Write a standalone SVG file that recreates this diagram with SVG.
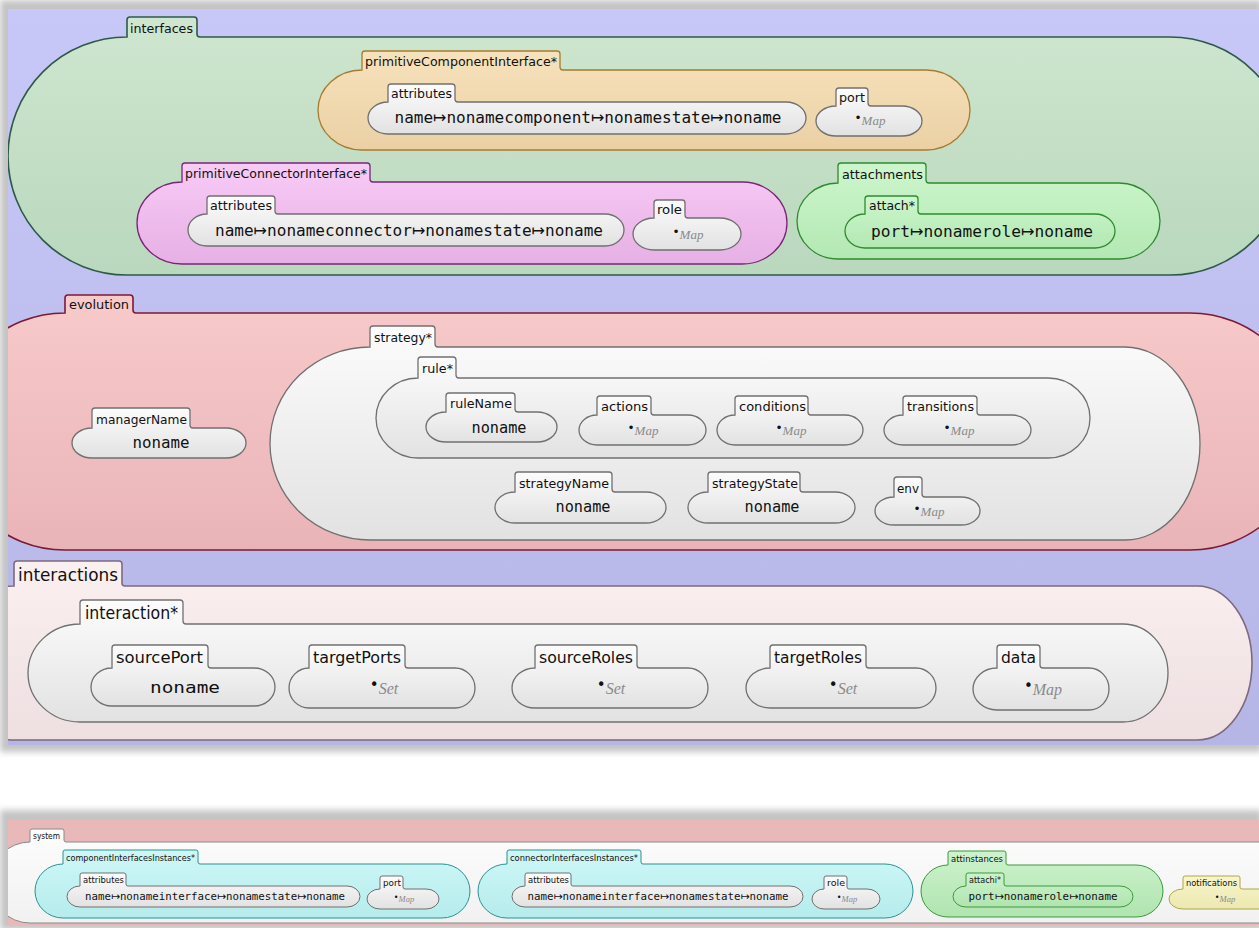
<svg xmlns="http://www.w3.org/2000/svg" width="1259" height="928" viewBox="0 0 1259 928">
<defs>
<style>
.tab{font-family:"DejaVu Sans Condensed","DejaVu Sans",sans-serif;font-size:12px;fill:#111}
.tabs{font-family:"DejaVu Sans Condensed","DejaVu Sans",sans-serif;font-size:8.5px;fill:#111}
.tabl{font-family:"DejaVu Sans Condensed","DejaVu Sans",sans-serif;font-size:17px;fill:#111}
.tabm{font-family:"DejaVu Sans Condensed","DejaVu Sans",sans-serif;font-size:16px;fill:#111}
.mono{font-family:"DejaVu Sans Mono","Liberation Mono",monospace;font-size:16px;fill:#111;text-anchor:middle}
.monos{font-family:"DejaVu Sans Mono","Liberation Mono",monospace;font-size:11px;fill:#111;text-anchor:middle}
.ar{font-family:"DejaVu Sans",sans-serif}
.val{text-anchor:middle}
.dot{font-family:"DejaVu Sans",sans-serif;fill:#111}
.it{font-family:"Liberation Serif","DejaVu Serif",serif;font-style:italic;fill:#8a8a8a}
.c1{stroke-width:1.6}
.c2{stroke-width:1.3}
.c3{stroke-width:1}
.green{fill:url(#gGreen);stroke:#2d5a48}
.orange{fill:url(#gOrange);stroke:#a47c30}
.magenta{fill:url(#gMag);stroke:#7a2478}
.lgreen{fill:url(#gLGreen);stroke:#2f8a2f}
.evo{fill:url(#gEvo);stroke:#7c1a34}
.white{fill:url(#gWhite);stroke:#707070}
.inter{fill:url(#gInter);stroke:#7d6a7c}
.cyan{fill:url(#gCyan);stroke:#2a9292}
.bgreen{fill:url(#gBGreen);stroke:#3a9a3a}
.yellow{fill:url(#gYellow);stroke:#b0a64c}
.sys{fill:url(#gSys);stroke:#8a8a8a}
</style>
<linearGradient id="gGreen" x1="0" y1="0" x2="0" y2="1"><stop offset="0" stop-color="#cfe6cf"/><stop offset="1" stop-color="#b9d8bd"/></linearGradient>
<linearGradient id="gOrange" x1="0" y1="0" x2="0" y2="1"><stop offset="0" stop-color="#f7e2bc"/><stop offset="1" stop-color="#ebd0a4"/></linearGradient>
<linearGradient id="gMag" x1="0" y1="0" x2="0" y2="1"><stop offset="0" stop-color="#f8cbf6"/><stop offset="1" stop-color="#e6b0e4"/></linearGradient>
<linearGradient id="gLGreen" x1="0" y1="0" x2="0" y2="1"><stop offset="0" stop-color="#cdf6cd"/><stop offset="1" stop-color="#b3e8b3"/></linearGradient>
<linearGradient id="gEvo" x1="0" y1="0" x2="0" y2="1"><stop offset="0" stop-color="#f8caca"/><stop offset="1" stop-color="#e9b4b8"/></linearGradient>
<linearGradient id="gWhite" x1="0" y1="0" x2="0" y2="1"><stop offset="0" stop-color="#fcfcfc"/><stop offset="1" stop-color="#e2e2e2"/></linearGradient>
<linearGradient id="gInter" x1="0" y1="0" x2="0" y2="1"><stop offset="0" stop-color="#fbf0f0"/><stop offset="1" stop-color="#eedfe1"/></linearGradient>
<linearGradient id="gCyan" x1="0" y1="0" x2="0" y2="1"><stop offset="0" stop-color="#cef7f7"/><stop offset="1" stop-color="#b6ecec"/></linearGradient>
<linearGradient id="gBGreen" x1="0" y1="0" x2="0" y2="1"><stop offset="0" stop-color="#cdf3cd"/><stop offset="1" stop-color="#b0e4b0"/></linearGradient>
<linearGradient id="gYellow" x1="0" y1="0" x2="0" y2="1"><stop offset="0" stop-color="#f8f6cc"/><stop offset="1" stop-color="#ece8b0"/></linearGradient>
<linearGradient id="gSys" x1="0" y1="0" x2="0" y2="1"><stop offset="0" stop-color="#fdfdfd"/><stop offset="1" stop-color="#f1f1f1"/></linearGradient>
<linearGradient id="gLav" x1="0" y1="0" x2="0" y2="1"><stop offset="0" stop-color="#c8c8f8"/><stop offset="1" stop-color="#b6b6e6"/></linearGradient>
<filter id="soft" x="-5%" y="-5%" width="110%" height="110%"><feGaussianBlur stdDeviation="3"/></filter>
<clipPath id="clipTop"><rect x="8" y="9" width="1251" height="736"/></clipPath>
<clipPath id="clipBot"><rect x="8" y="820" width="1251" height="105"/></clipPath>
</defs>

<rect x="0" y="0" width="1259" height="928" fill="#ffffff"/>
<rect x="0" y="0" width="1262" height="752" fill="#c4c4c4" filter="url(#soft)"/>
<rect x="8" y="9" width="1251" height="736" fill="url(#gLav)"/>
<rect x="0" y="810" width="1262" height="120" fill="#c4c4c4" filter="url(#soft)"/>
<rect x="8" y="820" width="1251" height="105" fill="#e9b9b9"/>

<g id="top" clip-path="url(#clipTop)">
 <g id="interfaces">
  <path class="green c1" d="M127,37 L127,20 Q127,17 130,17 L194,17 Q197,17 197,20 L197,34 Q197,37 200,37 L1170,37 A119,119 0 0 1 1170,275 L127,275 A119,119 0 0 1 127,37 Z"/>
  <text class="tab" x="130" y="33" textLength="63" lengthAdjust="spacingAndGlyphs">interfaces</text>
  <g id="primitiveComponentInterface">
   <path class="orange c2" d="M362,70 L362,54 Q362,51 365,51 L557,51 Q560,51 560,54 L560,67 Q560,70 563,70 L926,70 A44,40 0 0 1 926,150 L362,150 A44,40 0 0 1 362,70 Z"/>
   <text class="tab" x="365" y="66" textLength="192" lengthAdjust="spacingAndGlyphs">primitiveComponentInterface*</text>
   <g id="pci-attributes">
    <path class="white c2" d="M388,102 L388,87 Q388,84 391,84 L452,84 Q455,84 455,87 L455,99 Q455,102 458,102 L786,102 A20,16 0 0 1 786,134 L388,134 A20,16 0 0 1 388,102 Z"/>
    <text class="tab" x="391" y="98" textLength="61" lengthAdjust="spacingAndGlyphs">attributes</text>
    <text class="mono" x="588" y="123" textLength="387" lengthAdjust="spacingAndGlyphs">name<tspan class="ar">↦</tspan>nonamecomponent<tspan class="ar">↦</tspan>nonamestate<tspan class="ar">↦</tspan>noname</text>
   </g>
   <g id="pci-port">
    <path class="white c2" d="M836,106 L836,91 Q836,88 839,88 L865,88 Q868,88 868,91 L868,103 Q868,106 871,106 L902,106 A20,15 0 0 1 902,136 L836,136 A20,15 0 0 1 836,106 Z"/>
    <text class="tab" x="839" y="102" textLength="26" lengthAdjust="spacingAndGlyphs">port</text>
    <text class="val" x="870" y="125"><tspan class="dot" font-size="12" dy="-3">•</tspan><tspan class="it" font-size="13" dy="3">Map</tspan></text>
   </g>
  </g>
  <g id="primitiveConnectorInterface">
   <path class="magenta c2" d="M182,182 L182,166 Q182,163 185,163 L367,163 Q370,163 370,166 L370,179 Q370,182 373,182 L742,182 A45,41 0 0 1 742,264 L182,264 A45,41 0 0 1 182,182 Z"/>
   <text class="tab" x="185" y="178" textLength="182" lengthAdjust="spacingAndGlyphs">primitiveConnectorInterface*</text>
   <g id="pcn-attributes">
    <path class="white c2" d="M207,214 L207,199 Q207,196 210,196 L272,196 Q275,196 275,199 L275,211 Q275,214 278,214 L605,214 A19,16 0 0 1 605,246 L207,246 A19,16 0 0 1 207,214 Z"/>
    <text class="tab" x="210" y="210" textLength="62" lengthAdjust="spacingAndGlyphs">attributes</text>
    <text class="mono" x="409" y="236" textLength="388" lengthAdjust="spacingAndGlyphs">name<tspan class="ar">↦</tspan>nonameconnector<tspan class="ar">↦</tspan>nonamestate<tspan class="ar">↦</tspan>noname</text>
   </g>
   <g id="pcn-role">
    <path class="white c2" d="M654,218 L654,203 Q654,200 657,200 L682,200 Q685,200 685,203 L685,215 Q685,218 688,218 L720,218 A21,16 0 0 1 720,250 L654,250 A21,16 0 0 1 654,218 Z"/>
    <text class="tab" x="657" y="214" textLength="25" lengthAdjust="spacingAndGlyphs">role</text>
    <text class="val" x="688" y="239"><tspan class="dot" font-size="12" dy="-3">•</tspan><tspan class="it" font-size="13" dy="3">Map</tspan></text>
   </g>
  </g>
  <g id="attachments">
   <path class="lgreen c2" d="M838,183 L838,166 Q838,163 841,163 L923,163 Q926,163 926,166 L926,180 Q926,183 929,183 L1119,183 A41,38 0 0 1 1119,259 L838,259 A41,38 0 0 1 838,183 Z"/>
   <text class="tab" x="842" y="179" textLength="81" lengthAdjust="spacingAndGlyphs">attachments</text>
   <g id="attach">
    <path class="lgreen c2" d="M865,214 L865,199 Q865,196 868,196 L915,196 Q918,196 918,199 L918,211 Q918,214 921,214 L1095,214 A20,17 0 0 1 1095,248 L865,248 A20,17 0 0 1 865,214 Z"/>
    <text class="tab" x="869" y="210" textLength="46" lengthAdjust="spacingAndGlyphs">attach*</text>
    <text class="mono" x="982" y="237" textLength="222" lengthAdjust="spacingAndGlyphs">port<tspan class="ar">↦</tspan>nonamerole<tspan class="ar">↦</tspan>noname</text>
   </g>
  </g>
 </g>

 <g id="evolution">
  <path class="evo c1" d="M65,313 L65,298 Q65,295 68,295 L130,295 Q133,295 133,298 L133,310 Q133,313 136,313 L1190,313 A118,118.5 0 0 1 1190,550 L65,550 A118,118.5 0 0 1 65,313 Z"/>
  <text class="tab" x="69" y="309" textLength="60" lengthAdjust="spacingAndGlyphs">evolution</text>
  <g id="managerName">
   <path class="white c2" d="M92,428 L92,411 Q92,408 95,408 L187,408 Q190,408 190,411 L190,425 Q190,428 193,428 L226,428 A20,15 0 0 1 226,458 L92,458 A20,15 0 0 1 92,428 Z"/>
   <text class="tab" x="96" y="424" textLength="91" lengthAdjust="spacingAndGlyphs">managerName</text>
   <text class="mono" x="161" y="448" textLength="57" lengthAdjust="spacingAndGlyphs">noname</text>
  </g>
  <g id="strategy">
   <path class="white c2" d="M370,347 L370,329 Q370,326 373,326 L432,326 Q435,326 435,329 L435,344 Q435,347 438,347 L1125,347 A75,96.5 0 0 1 1125,540 L370,540 A100,96.5 0 0 1 370,347 Z"/>
   <text class="tab" x="374" y="342" font-size="13" textLength="58" lengthAdjust="spacingAndGlyphs">strategy*</text>
   <g id="rule">
    <path class="white c2" d="M418,378 L418,360 Q418,357 421,357 L453,357 Q456,357 456,360 L456,375 Q456,378 459,378 L1048,378 A42,40 0 0 1 1048,458 L418,458 A42,40 0 0 1 418,378 Z"/>
    <text class="tab" x="422" y="373" font-size="13" textLength="31" lengthAdjust="spacingAndGlyphs">rule*</text>
    <g id="ruleName">
     <path class="white c2" d="M446,412 L446,396 Q446,393 449,393 L512,393 Q515,393 515,396 L515,409 Q515,412 518,412 L537,412 A20,15 0 0 1 537,442 L446,442 A20,15 0 0 1 446,412 Z"/>
     <text class="tab" x="450" y="408" textLength="62" lengthAdjust="spacingAndGlyphs">ruleName</text>
     <text class="mono" x="499" y="433" textLength="55" lengthAdjust="spacingAndGlyphs">noname</text>
    </g>
    <g id="actions">
     <path class="white c2" d="M597,415 L597,399 Q597,396 600,396 L648,396 Q651,396 651,399 L651,412 Q651,415 654,415 L688,415 A18,15 0 0 1 688,445 L597,445 A18,15 0 0 1 597,415 Z"/>
     <text class="tab" x="601" y="411" textLength="47" lengthAdjust="spacingAndGlyphs">actions</text>
     <text class="val" x="643" y="435"><tspan class="dot" font-size="12" dy="-3">•</tspan><tspan class="it" font-size="13" dy="3">Map</tspan></text>
    </g>
    <g id="conditions">
     <path class="white c2" d="M735,415 L735,399 Q735,396 738,396 L805,396 Q808,396 808,399 L808,412 Q808,415 811,415 L845,415 A18,15 0 0 1 845,445 L735,445 A18,15 0 0 1 735,415 Z"/>
     <text class="tab" x="739" y="411" textLength="67" lengthAdjust="spacingAndGlyphs">conditions</text>
     <text class="val" x="791" y="435"><tspan class="dot" font-size="12" dy="-3">•</tspan><tspan class="it" font-size="13" dy="3">Map</tspan></text>
    </g>
    <g id="transitions">
     <path class="white c2" d="M903,415 L903,399 Q903,396 906,396 L974,396 Q977,396 977,399 L977,412 Q977,415 980,415 L1012,415 A19,15 0 0 1 1012,445 L903,445 A19,15 0 0 1 903,415 Z"/>
     <text class="tab" x="907" y="411" textLength="67" lengthAdjust="spacingAndGlyphs">transitions</text>
     <text class="val" x="959" y="435"><tspan class="dot" font-size="12" dy="-3">•</tspan><tspan class="it" font-size="13" dy="3">Map</tspan></text>
    </g>
   </g>
   <g id="strategyName">
    <path class="white c2" d="M515,492 L515,475 Q515,472 518,472 L609,472 Q612,472 612,475 L612,489 Q612,492 615,492 L646,492 A20,15.5 0 0 1 646,523 L515,523 A20,15.5 0 0 1 515,492 Z"/>
    <text class="tab" x="519" y="488" textLength="90" lengthAdjust="spacingAndGlyphs">strategyName</text>
    <text class="mono" x="583" y="512" textLength="55" lengthAdjust="spacingAndGlyphs">noname</text>
   </g>
   <g id="strategyState">
    <path class="white c2" d="M708,492 L708,475 Q708,472 711,472 L797,472 Q800,472 800,475 L800,489 Q800,492 803,492 L835,492 A20,15.5 0 0 1 835,523 L708,523 A20,15.5 0 0 1 708,492 Z"/>
    <text class="tab" x="712" y="488" textLength="86" lengthAdjust="spacingAndGlyphs">strategyState</text>
    <text class="mono" x="772" y="512" textLength="55" lengthAdjust="spacingAndGlyphs">noname</text>
   </g>
   <g id="env">
    <path class="white c2" d="M894,497 L894,480 Q894,477 897,477 L919,477 Q922,477 922,480 L922,494 Q922,497 925,497 L961,497 A19,14 0 0 1 961,525 L894,525 A19,14 0 0 1 894,497 Z"/>
    <text class="tab" x="897" y="493" textLength="22" lengthAdjust="spacingAndGlyphs">env</text>
    <text class="val" x="929" y="516"><tspan class="dot" font-size="12" dy="-3">•</tspan><tspan class="it" font-size="13" dy="3">Map</tspan></text>
   </g>
  </g>
 </g>

 <g id="interactions">
  <path class="inter c1" d="M14,586 L14,564 Q14,561 17,561 L119,561 Q122,561 122,564 L122,583 Q122,586 125,586 L1197,586 A55,77 0 0 1 1197,740 L14,740 A77,77 0 0 1 14,586 Z"/>
  <text class="tabl" x="18" y="581" textLength="100" lengthAdjust="spacingAndGlyphs">interactions</text>
  <g id="interaction">
   <path class="white c2" d="M80,624 L80,603 Q80,600 83,600 L180,600 Q183,600 183,603 L183,621 Q183,624 186,624 L1123,624 A45,49 0 0 1 1123,722 L80,722 A52,49 0 0 1 80,624 Z"/>
   <text class="tabl" x="85" y="619" textLength="93" lengthAdjust="spacingAndGlyphs">interaction*</text>
   <g id="sourcePort">
    <path class="white c2" d="M112,668 L112,648 Q112,645 115,645 L205,645 Q208,645 208,648 L208,665 Q208,668 211,668 L254,668 A21,19 0 0 1 254,706 L112,706 A21,19 0 0 1 112,668 Z"/>
    <text class="tabm" x="116" y="663" textLength="87" lengthAdjust="spacingAndGlyphs">sourcePort</text>
    <text class="mono" x="185" y="693" font-size="19" textLength="70" lengthAdjust="spacingAndGlyphs">noname</text>
   </g>
   <g id="targetPorts">
    <path class="white c2" d="M309,668 L309,648 Q309,645 312,645 L402,645 Q405,645 405,648 L405,665 Q405,668 408,668 L455,668 A20,20 0 0 1 455,708 L309,708 A20,20 0 0 1 309,668 Z"/>
    <text class="tabm" x="313" y="663" textLength="88" lengthAdjust="spacingAndGlyphs">targetPorts</text>
    <text class="val" x="384" y="694"><tspan class="dot" font-size="15" dy="-4">•</tspan><tspan class="it" font-size="16" dy="4">Set</tspan></text>
   </g>
   <g id="sourceRoles">
    <path class="white c2" d="M535,668 L535,648 Q535,645 538,645 L634,645 Q637,645 637,648 L637,665 Q637,668 640,668 L688,668 A20,20 0 0 1 688,708 L535,708 A23,20 0 0 1 535,668 Z"/>
    <text class="tabm" x="539" y="663" textLength="94" lengthAdjust="spacingAndGlyphs">sourceRoles</text>
    <text class="val" x="611" y="694"><tspan class="dot" font-size="15" dy="-4">•</tspan><tspan class="it" font-size="16" dy="4">Set</tspan></text>
   </g>
   <g id="targetRoles">
    <path class="white c2" d="M770,668 L770,648 Q770,645 773,645 L863,645 Q866,645 866,648 L866,665 Q866,668 869,668 L916,668 A20,20 0 0 1 916,708 L770,708 A24,20 0 0 1 770,668 Z"/>
    <text class="tabm" x="774" y="663" textLength="88" lengthAdjust="spacingAndGlyphs">targetRoles</text>
    <text class="val" x="843" y="694"><tspan class="dot" font-size="15" dy="-4">•</tspan><tspan class="it" font-size="16" dy="4">Set</tspan></text>
   </g>
   <g id="data">
    <path class="white c2" d="M997,668 L997,648 Q997,645 1000,645 L1037,645 Q1040,645 1040,648 L1040,665 Q1040,668 1043,668 L1089,668 A20,21 0 0 1 1089,710 L997,710 A24,21 0 0 1 997,668 Z"/>
    <text class="tabm" x="1001" y="663" textLength="35" lengthAdjust="spacingAndGlyphs">data</text>
    <text class="val" x="1043" y="695"><tspan class="dot" font-size="15" dy="-4">•</tspan><tspan class="it" font-size="16" dy="4">Map</tspan></text>
   </g>
  </g>
 </g>
</g>

<g id="bottom" clip-path="url(#clipBot)">
 <g id="system">
  <path class="sys c3" d="M30,842 L30,831 Q30,829 32,829 L62,829 Q64,829 64,831 L64,840 Q64,842 66,842 L1280,842 A40,40.5 0 0 1 1280,923 L30,923 A40,40.5 0 0 1 30,842 Z"/>
  <text class="tabs" x="33" y="839" textLength="27" lengthAdjust="spacingAndGlyphs">system</text>
  <g id="componentInterfacesInstances">
   <path class="cyan c3" d="M63,864 L63,852 Q63,850 65,850 L196,850 Q198,850 198,852 L198,862 Q198,864 200,864 L442,864 A28,27 0 0 1 442,918 L63,918 A28,27 0 0 1 63,864 Z"/>
   <text class="tabs" x="66" y="861" textLength="129" lengthAdjust="spacingAndGlyphs">componentInterfacesInstances*</text>
   <g id="cii-attributes">
    <path class="white c3" d="M80,886 L80,875 Q80,873 82,873 L124,873 Q126,873 126,875 L126,884 Q126,886 128,886 L347,886 A13,10.5 0 0 1 347,907 L80,907 A13,10.5 0 0 1 80,886 Z"/>
    <text class="tabs" x="83" y="883" textLength="41" lengthAdjust="spacingAndGlyphs">attributes</text>
    <text class="monos" x="215" y="900" textLength="260" lengthAdjust="spacingAndGlyphs">name<tspan class="ar">↦</tspan>nonameinterface<tspan class="ar">↦</tspan>nonamestate<tspan class="ar">↦</tspan>noname</text>
   </g>
   <g id="cii-port">
    <path class="white c3" d="M380,889 L380,878 Q380,876 382,876 L401,876 Q403,876 403,878 L403,887 Q403,889 405,889 L426,889 A13,10 0 0 1 426,909 L380,909 A13,10 0 0 1 380,889 Z"/>
    <text class="tabs" x="383" y="886" textLength="18" lengthAdjust="spacingAndGlyphs">port</text>
    <text class="val" x="404" y="902"><tspan class="dot" font-size="8" dy="-2">•</tspan><tspan class="it" font-size="8.5" dy="2">Map</tspan></text>
   </g>
  </g>
  <g id="connectorInterfacesInstances">
   <path class="cyan c3" d="M507,864 L507,852 Q507,850 509,850 L639,850 Q641,850 641,852 L641,862 Q641,864 643,864 L885,864 A28,27 0 0 1 885,918 L507,918 A29,27 0 0 1 507,864 Z"/>
   <text class="tabs" x="510" y="861" textLength="128" lengthAdjust="spacingAndGlyphs">connectorInterfacesInstances*</text>
   <g id="cni-attributes">
    <path class="white c3" d="M525,886 L525,875 Q525,873 527,873 L569,873 Q571,873 571,875 L571,884 Q571,886 573,886 L790,886 A13,10.5 0 0 1 790,907 L525,907 A13,10.5 0 0 1 525,886 Z"/>
    <text class="tabs" x="528" y="883" textLength="41" lengthAdjust="spacingAndGlyphs">attributes</text>
    <text class="monos" x="658" y="900" textLength="261" lengthAdjust="spacingAndGlyphs">name<tspan class="ar">↦</tspan>nonameinterface<tspan class="ar">↦</tspan>nonamestate<tspan class="ar">↦</tspan>noname</text>
   </g>
   <g id="cni-role">
    <path class="white c3" d="M824,889 L824,878 Q824,876 826,876 L845,876 Q847,876 847,878 L847,887 Q847,889 849,889 L867,889 A13,10 0 0 1 867,909 L824,909 A12,10 0 0 1 824,889 Z"/>
    <text class="tabs" x="827" y="886" textLength="18" lengthAdjust="spacingAndGlyphs">role</text>
    <text class="val" x="847" y="902"><tspan class="dot" font-size="8" dy="-2">•</tspan><tspan class="it" font-size="8.5" dy="2">Map</tspan></text>
   </g>
  </g>
  <g id="attinstances">
   <path class="bgreen c3" d="M948,865 L948,853 Q948,851 950,851 L1004,851 Q1006,851 1006,853 L1006,863 Q1006,865 1008,865 L1136,865 A27,26 0 0 1 1136,917 L948,917 A27,26 0 0 1 948,865 Z"/>
   <text class="tabs" x="951" y="862" textLength="52" lengthAdjust="spacingAndGlyphs">attinstances</text>
   <g id="attachi">
    <path class="bgreen c3" d="M966,886 L966,875 Q966,873 968,873 L1002,873 Q1004,873 1004,875 L1004,884 Q1004,886 1006,886 L1120,886 A13,10.5 0 0 1 1120,907 L966,907 A13,10.5 0 0 1 966,886 Z"/>
    <text class="tabs" x="969" y="883" textLength="32" lengthAdjust="spacingAndGlyphs">attachi*</text>
    <text class="monos" x="1043" y="900" textLength="149" lengthAdjust="spacingAndGlyphs">port<tspan class="ar">↦</tspan>nonamerole<tspan class="ar">↦</tspan>noname</text>
   </g>
  </g>
  <g id="notifications">
   <path class="yellow c3" d="M1183,889 L1183,878 Q1183,876 1185,876 L1238,876 Q1240,876 1240,878 L1240,887 Q1240,889 1242,889 L1287,889 A13,10 0 0 1 1287,909 L1183,909 A14,10 0 0 1 1183,889 Z"/>
   <text class="tabs" x="1186" y="886" textLength="51" lengthAdjust="spacingAndGlyphs">notifications</text>
   <text class="val" x="1225" y="902"><tspan class="dot" font-size="8" dy="-2">•</tspan><tspan class="it" font-size="8.5" dy="2">Map</tspan></text>
  </g>
 </g>
</g>
<g id="connectors"/>
</svg>
